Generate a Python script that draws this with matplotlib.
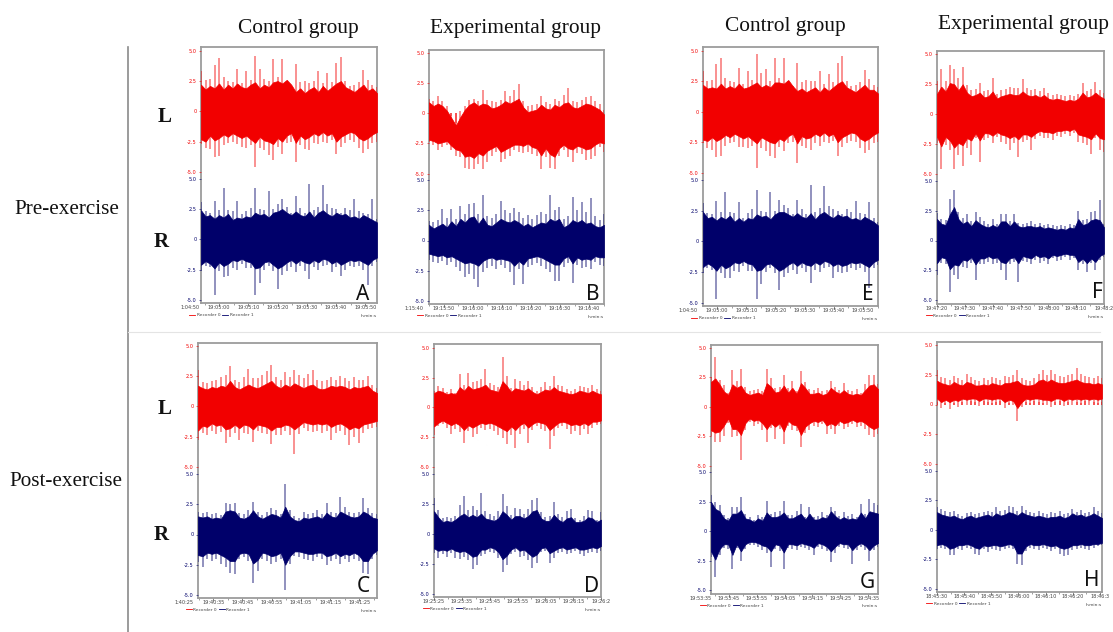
import matplotlib
matplotlib.use("Agg")
import matplotlib.pyplot as plt
from matplotlib.lines import Line2D
import numpy as np

W, H = 1113, 632
RED = "#f20000"
NAVY = "#00006a"

# Peak and dense-band envelopes per record (mV), evenly spaced in time, L = red, R = navy
A_L_UP = [3.3,2.6,2.7,3.8,4.4,2.8,2.5,2.4,3.5,2.3,3.3,2.6,4.6,3.5,2.7,2.5,4.3,2.8,4.3,2.5,2.1,3.9,2.4,2.5,2.3,2.5,3.3,2.3,3.2,2.4,4.0,4.5,2.5,2.1,2.2,2.4,3.4,2.6,2.2,2.0]
A_L_DN = [-2.7,-3.0,-3.1,-3.8,-3.7,-2.8,-2.6,-2.5,-2.7,-2.9,-3.0,-2.8,-4.6,-3.0,-3.2,-3.6,-4.0,-2.9,-3.5,-2.6,-2.5,-4.2,-2.8,-3.1,-3.2,-2.6,-2.7,-2.5,-2.6,-2.4,-3.5,-2.9,-2.6,-2.4,-2.5,-3.0,-3.4,-3.1,-2.6,-2.5]
A_L_BODY_UP = [2.2,1.8,2.1,1.9,2.3,1.8,2.2,1.9,2.3,2.0,1.9,2.2,2.4,1.9,2.2,2.0,2.4,2.5,2.3,2.6,2.2,1.6,1.9,1.5,1.8,2.0,1.6,2.1,1.7,2.0,2.3,2.5,2.0,1.8,1.6,1.9,2.2,1.7,1.9,1.5]
A_L_BODY_DN = [-2.3,-2.5,-2.0,-2.4,-2.2,-1.9,-2.1,-1.8,-2.0,-2.2,-2.0,-2.3,-2.6,-2.1,-2.4,-2.5,-2.7,-2.2,-2.5,-2.0,-1.8,-2.6,-2.0,-2.3,-2.1,-1.8,-2.0,-1.7,-2.0,-1.8,-2.5,-2.1,-1.9,-1.7,-1.8,-2.2,-2.4,-2.2,-1.9,-1.7]
A_R_UP = [3.1,2.3,2.2,3.2,2.4,4.2,2.4,2.3,3.2,2.1,2.3,2.6,4.2,2.5,2.4,4.0,2.5,2.9,3.3,2.7,2.2,3.6,2.6,2.2,4.6,2.4,2.7,4.5,2.9,2.6,2.5,2.2,2.6,2.4,3.3,2.3,2.2,2.1,3.3,1.7]
A_R_DN = [-2.6,-2.2,-2.3,-4.6,-2.6,-3.1,-3.0,-2.4,-2.5,-2.0,-2.4,-2.4,-4.6,-3.6,-2.5,-2.2,-2.6,-4.1,-2.9,-2.6,-2.3,-2.7,-2.2,-2.6,-3.3,-2.3,-2.5,-2.2,-2.1,-2.7,-2.3,-3.0,-2.5,-2.2,-2.3,-2.2,-2.5,-3.8,-2.2,-1.9]
A_R_BODY_UP = [2.4,1.9,2.0,1.7,2.0,1.8,2.1,1.6,1.8,1.7,1.9,1.8,2.2,2.0,2.1,1.8,2.2,2.3,2.5,2.2,2.0,2.3,2.0,1.9,2.3,1.8,2.2,2.4,2.1,1.9,2.2,2.0,2.1,1.8,1.9,1.7,2.0,1.8,1.6,1.4]
A_R_BODY_DN = [-2.1,-1.8,-2.0,-2.4,-1.9,-2.2,-2.0,-1.7,-1.8,-1.6,-1.8,-1.9,-2.4,-2.3,-1.9,-1.8,-2.1,-2.4,-2.2,-1.9,-1.7,-2.0,-1.7,-1.9,-2.0,-1.7,-1.9,-1.6,-1.7,-2.0,-1.8,-2.1,-1.9,-1.7,-1.8,-1.7,-1.9,-2.1,-1.7,-1.5]

B_L_UP = [1.2,1.0,1.4,1.0,0.6,-0.2,-0.8,0.2,0.6,1.1,1.2,1.0,1.9,1.1,1.0,0.9,1.1,1.8,1.4,1.9,2.4,1.0,0.6,0.7,0.8,1.4,0.9,0.8,1.2,1.0,1.5,2.1,1.0,0.9,1.1,1.3,1.4,1.0,0.8,0.3]
B_L_DN = [-2.4,-2.6,-3.0,-2.8,-2.6,-3.0,-3.5,-3.6,-4.5,-4.6,-4.6,-4.2,-4.6,-4.0,-3.5,-3.2,-4.0,-3.8,-3.5,-3.0,-3.2,-3.3,-3.2,-3.4,-3.5,-4.6,-3.6,-4.5,-4.6,-3.5,-3.0,-3.6,-4.0,-3.3,-3.4,-3.9,-3.8,-3.5,-2.8,-3.2]
B_L_BODY_UP = [0.9,0.6,0.8,0.6,0.2,-0.4,-1.0,-0.3,0.3,0.7,0.9,0.6,0.8,0.7,0.4,0.5,0.7,1.0,0.8,1.0,1.2,0.5,0.1,0.2,0.3,0.7,0.4,0.3,0.7,0.5,0.8,0.9,0.5,0.4,0.6,0.8,0.7,0.5,0.3,-0.1]
B_L_BODY_DN = [-2.2,-2.3,-2.5,-2.4,-2.3,-2.7,-3.0,-3.1,-3.6,-3.5,-3.7,-3.3,-3.5,-3.1,-2.9,-2.7,-3.2,-3.0,-2.8,-2.6,-2.6,-2.7,-2.5,-2.8,-2.9,-3.5,-2.9,-3.4,-3.6,-2.9,-2.6,-2.9,-3.0,-2.7,-2.8,-3.0,-2.9,-2.6,-2.4,-2.5]
B_R_UP = [1.6,1.5,1.7,2.6,1.9,2.6,1.8,2.9,2.2,3.0,3.1,2.2,3.8,2.0,1.9,2.2,3.3,2.5,2.3,2.7,2.4,1.9,2.1,1.8,2.1,2.4,2.2,3.8,2.5,2.8,1.8,2.0,3.6,2.5,3.2,2.4,3.5,2.0,1.7,2.2]
B_R_DN = [-1.6,-1.8,-1.9,-1.7,-2.0,-1.8,-2.2,-2.5,-3.0,-2.8,-3.2,-3.9,-2.6,-2.3,-2.1,-2.4,-2.0,-2.3,-2.6,-3.7,-2.4,-3.6,-2.2,-2.0,-1.9,-2.1,-2.4,-2.6,-3.4,-3.4,-2.2,-1.9,-3.5,-2.0,-2.3,-2.2,-2.4,-1.8,-2.0,-2.1]
B_R_BODY_UP = [1.3,1.0,1.2,1.4,1.1,1.6,1.2,1.8,1.5,1.9,2.0,1.4,1.9,1.3,1.2,1.5,1.8,1.6,1.5,1.7,1.5,1.2,1.4,1.1,1.3,1.5,1.4,1.8,1.6,1.8,1.1,1.3,1.7,1.5,1.7,1.4,1.5,1.2,1.1,1.3]
B_R_BODY_DN = [-1.1,-1.2,-1.3,-1.2,-1.4,-1.3,-1.5,-1.7,-1.9,-1.8,-1.9,-2.1,-1.7,-1.5,-1.4,-1.6,-1.5,-1.6,-1.7,-2.1,-1.7,-2.0,-1.5,-1.4,-1.3,-1.4,-1.6,-1.8,-2.0,-2.0,-1.5,-1.3,-1.9,-1.4,-1.6,-1.5,-1.6,-1.3,-1.4,-1.4]

C_L_UP = [3.0,2.0,1.9,2.1,2.2,2.4,2.6,3.3,2.2,2.0,2.4,3.1,2.3,2.3,2.6,2.9,3.4,2.4,2.2,2.8,2.4,3.0,2.6,2.3,2.7,3.0,2.2,2.1,2.2,2.4,2.2,2.5,2.3,2.1,2.4,2.2,2.2,2.5,1.8,1.5]
C_L_DN = [-2.8,-2.2,-2.4,-2.0,-2.3,-2.1,-3.0,-2.5,-2.2,-2.8,-2.2,-2.3,-2.9,-2.0,-2.2,-2.3,-3.1,-2.4,-2.4,-2.0,-2.4,-3.9,-2.3,-1.8,-2.0,-2.1,-2.0,-2.2,-2.0,-2.8,-2.2,-2.0,-2.4,-3.2,-2.5,-3.0,-2.2,-1.9,-1.8,-1.7]
C_L_BODY_UP = [1.7,1.5,1.4,1.6,1.5,1.7,1.6,2.1,1.6,1.4,1.6,1.8,1.6,1.5,1.7,1.9,2.1,1.7,1.5,1.8,1.6,1.9,1.7,1.5,1.7,1.8,1.5,1.4,1.5,1.7,1.6,1.7,1.6,1.4,1.6,1.5,1.6,1.7,1.3,1.1]
C_L_BODY_DN = [-2.0,-1.6,-1.7,-1.4,-1.6,-1.5,-1.9,-1.8,-1.5,-1.8,-1.5,-1.6,-1.9,-1.5,-1.6,-1.7,-2.0,-1.7,-1.7,-1.5,-1.6,-1.9,-1.6,-1.3,-1.4,-1.5,-1.4,-1.5,-1.4,-1.7,-1.5,-1.4,-1.6,-1.9,-1.7,-1.8,-1.5,-1.4,-1.3,-1.2]
C_R_UP = [1.9,1.8,1.9,1.7,1.8,1.6,2.6,2.5,2.6,1.8,1.7,2.0,2.7,1.9,1.6,1.9,2.2,2.0,1.7,4.2,2.0,1.5,1.4,1.9,1.7,1.8,2.0,1.7,2.6,1.9,1.8,3.1,2.3,1.9,1.8,1.9,3.0,2.2,1.8,1.7]
C_R_DN = [-2.3,-2.7,-2.0,-2.2,-2.0,-2.4,-2.7,-3.2,-3.3,-2.0,-1.9,-2.2,-4.0,-3.0,-2.0,-2.2,-2.4,-2.3,-2.0,-4.6,-2.4,-1.8,-1.9,-2.0,-2.1,-2.2,-1.9,-2.0,-2.5,-2.2,-2.0,-2.4,-2.0,-2.3,-2.0,-2.2,-3.2,-3.3,-2.0,-1.7]
C_R_BODY_UP = [1.5,1.4,1.5,1.3,1.4,1.3,1.9,2.0,1.9,1.4,1.3,1.5,2.0,1.5,1.3,1.5,1.7,1.6,1.4,2.3,1.5,1.2,1.1,1.4,1.3,1.4,1.5,1.3,1.8,1.5,1.4,1.9,1.7,1.5,1.4,1.5,1.9,1.7,1.4,1.3]
C_R_BODY_DN = [-1.7,-1.8,-1.5,-1.6,-1.5,-1.7,-1.9,-2.2,-2.2,-1.6,-1.5,-1.6,-2.4,-2.1,-1.5,-1.6,-1.8,-1.7,-1.5,-2.5,-1.8,-1.4,-1.4,-1.5,-1.6,-1.6,-1.5,-1.5,-1.8,-1.7,-1.5,-1.8,-1.6,-1.7,-1.5,-1.7,-2.2,-2.2,-1.6,-1.3]

D_L_UP = [1.4,1.8,1.6,1.3,1.5,1.2,2.8,1.9,2.9,2.1,2.2,2.4,3.2,2.0,1.9,1.7,4.2,2.6,1.6,2.4,2.2,1.9,2.2,1.7,1.4,1.7,2.1,1.8,2.6,1.9,1.8,1.5,1.4,1.5,1.8,1.7,1.6,1.9,1.5,1.4]
D_L_DN = [-2.3,-1.6,-1.4,-1.7,-2.2,-1.8,-2.1,-3.0,-2.0,-2.5,-2.2,-1.7,-1.9,-1.8,-2.0,-2.3,-2.6,-3.1,-2.3,-3.4,-2.2,-1.8,-3.0,-1.9,-1.6,-1.8,-2.0,-3.5,-2.4,-1.7,-1.6,-1.8,-2.2,-2.0,-2.3,-1.8,-2.2,-1.7,-1.5,-1.4]
D_L_BODY_UP = [1.2,1.4,1.3,1.1,1.2,1.1,1.7,1.4,1.8,1.5,1.6,1.7,1.9,1.5,1.4,1.3,2.2,1.8,1.3,1.6,1.5,1.4,1.6,1.3,1.1,1.3,1.5,1.4,1.7,1.4,1.3,1.2,1.1,1.2,1.4,1.3,1.2,1.4,1.2,1.1]
D_L_BODY_DN = [-1.6,-1.3,-1.1,-1.3,-1.5,-1.3,-1.5,-1.9,-1.5,-1.7,-1.5,-1.3,-1.4,-1.3,-1.4,-1.6,-1.8,-2.0,-1.6,-1.9,-1.5,-1.3,-1.7,-1.4,-1.2,-1.3,-1.4,-1.9,-1.6,-1.3,-1.2,-1.3,-1.5,-1.4,-1.5,-1.3,-1.5,-1.2,-1.2,-1.1]
D_R_UP = [3.0,2.0,1.3,1.4,1.3,1.5,2.4,3.2,2.0,2.3,2.0,3.4,1.9,1.7,1.5,1.9,3.3,2.3,1.6,2.2,2.1,1.7,2.1,2.8,3.0,1.8,1.4,1.5,2.7,1.7,1.4,1.9,2.1,1.3,1.2,1.5,2.0,1.9,1.2,1.8]
D_R_DN = [-1.6,-2.0,-1.7,-1.9,-1.6,-2.0,-2.1,-1.9,-2.2,-2.9,-2.6,-1.8,-1.7,-1.5,-1.6,-2.0,-3.2,-2.6,-1.7,-1.5,-1.9,-1.8,-2.2,-2.8,-2.4,-1.5,-1.4,-2.4,-2.0,-1.6,-1.5,-1.7,-1.6,-1.4,-1.7,-1.8,-1.6,-1.5,-1.6,-1.4]
D_R_BODY_UP = [1.9,1.4,1.0,1.1,1.0,1.2,1.5,1.7,1.4,1.6,1.4,1.7,1.3,1.2,1.1,1.3,1.9,1.6,1.2,1.5,1.5,1.3,1.5,1.9,2.0,1.3,1.1,1.1,1.6,1.2,1.0,1.3,1.4,1.0,1.0,1.1,1.4,1.3,1.0,1.2]
D_R_BODY_DN = [-1.2,-1.4,-1.3,-1.4,-1.2,-1.4,-1.5,-1.4,-1.6,-1.9,-1.8,-1.3,-1.3,-1.1,-1.2,-1.5,-2.1,-1.8,-1.3,-1.1,-1.4,-1.3,-1.6,-1.9,-1.7,-1.2,-1.1,-1.6,-1.4,-1.2,-1.1,-1.3,-1.2,-1.1,-1.3,-1.3,-1.2,-1.1,-1.2,-1.0]

E_L_UP = [3.3,2.5,2.6,3.9,4.4,2.8,2.5,2.4,3.6,2.3,3.3,2.6,4.7,3.2,3.5,2.5,4.4,2.8,4.4,2.5,2.1,4.0,2.4,2.6,2.5,2.5,3.3,2.3,3.1,2.4,4.0,4.6,2.5,2.1,2.2,2.4,3.4,2.7,2.2,2.0]
E_L_DN = [-2.6,-3.0,-3.1,-3.7,-3.6,-2.8,-2.6,-2.5,-2.9,-2.9,-3.0,-2.8,-4.6,-3.0,-3.2,-3.6,-3.8,-2.9,-3.2,-2.6,-2.5,-4.2,-2.8,-3.0,-3.1,-2.6,-2.8,-2.5,-2.6,-2.4,-3.6,-2.9,-2.6,-2.4,-2.5,-3.0,-3.4,-3.1,-2.6,-2.5]
E_L_BODY_UP = [2.2,1.9,2.0,1.9,2.3,1.9,2.1,1.9,2.3,1.9,2.0,2.2,2.4,2.0,2.2,2.0,2.4,2.4,2.3,2.6,2.1,1.7,1.9,1.6,1.8,2.0,1.6,2.0,1.7,2.0,2.3,2.5,2.0,1.8,1.6,1.9,2.2,1.8,1.8,1.5]
E_L_BODY_DN = [-2.3,-2.4,-2.1,-2.4,-2.2,-1.9,-2.1,-1.8,-2.0,-2.2,-2.0,-2.3,-2.6,-2.1,-2.3,-2.5,-2.6,-2.2,-2.4,-2.0,-1.8,-2.6,-2.0,-2.2,-2.1,-1.8,-2.0,-1.7,-2.0,-1.8,-2.5,-2.1,-1.9,-1.7,-1.8,-2.2,-2.4,-2.2,-1.9,-1.7]
E_R_UP = [3.1,2.3,2.2,3.3,2.4,4.0,2.4,2.3,3.2,1.9,2.3,2.6,4.2,2.5,2.4,4.0,2.5,3.4,3.0,2.7,2.2,3.4,2.6,2.2,4.6,2.4,2.7,4.5,2.9,2.6,2.5,2.2,2.6,2.4,3.3,2.3,2.2,3.2,1.9,1.6]
E_R_DN = [-2.6,-2.2,-2.3,-4.7,-2.6,-3.0,-3.0,-2.4,-2.5,-2.0,-2.4,-2.4,-4.7,-3.5,-2.5,-2.2,-2.6,-4.0,-2.9,-2.6,-2.3,-2.7,-2.2,-2.5,-3.4,-2.3,-2.5,-2.2,-2.1,-3.0,-2.5,-2.6,-2.5,-2.2,-2.3,-2.2,-2.5,-3.8,-2.2,-1.9]
E_R_BODY_UP = [2.4,1.9,2.0,1.7,2.0,1.8,2.1,1.6,1.9,1.6,1.9,1.8,2.2,2.0,2.1,1.8,2.2,2.4,2.4,2.2,2.0,2.3,2.0,1.9,2.3,1.8,2.2,2.4,2.1,1.9,2.2,2.0,2.1,1.8,1.9,1.7,2.0,1.8,1.6,1.3]
E_R_BODY_DN = [-2.1,-1.8,-2.0,-2.4,-1.9,-2.2,-2.0,-1.7,-1.8,-1.6,-1.8,-1.9,-2.4,-2.3,-1.9,-1.8,-2.1,-2.4,-2.2,-1.9,-1.7,-2.0,-1.7,-1.9,-2.0,-1.7,-1.9,-1.6,-1.7,-2.0,-1.8,-2.0,-1.9,-1.7,-1.8,-1.7,-1.9,-2.1,-1.7,-1.5]

F_L_UP = [2.8,3.8,2.8,4.1,3.8,3.0,3.9,2.4,2.0,2.1,2.6,1.9,2.0,3.0,1.7,2.0,2.1,2.3,2.2,2.2,2.9,2.2,2.0,2.1,1.9,2.2,1.8,1.6,1.7,1.6,1.5,1.6,1.5,1.7,2.6,1.9,2.1,2.7,2.0,1.8]
F_L_DN = [-2.4,-4.6,-2.6,-3.0,-4.6,-3.4,-4.3,-2.8,-3.4,-2.0,-4.0,-2.2,-2.0,-2.4,-1.9,-2.3,-2.5,-3.0,-2.4,-3.6,-2.3,-2.2,-3.0,-2.1,-1.8,-2.0,-2.0,-2.2,-1.8,-1.9,-1.7,-1.8,-1.6,-2.3,-2.4,-2.6,-3.3,-2.0,-3.0,-3.2]
F_L_BODY_UP = [1.7,2.3,1.9,2.6,2.5,2.0,2.5,1.8,1.5,1.6,1.8,1.4,1.5,1.9,1.3,1.5,1.6,1.7,1.6,1.6,1.9,1.6,1.5,1.6,1.4,1.6,1.3,1.2,1.3,1.2,1.1,1.2,1.1,1.3,1.8,1.4,1.5,1.8,1.5,1.3]
F_L_BODY_DN = [-1.9,-2.7,-1.9,-2.2,-2.8,-2.4,-2.6,-2.0,-2.2,-1.6,-2.2,-1.6,-1.6,-1.8,-1.5,-1.7,-1.8,-2.0,-1.8,-2.1,-1.7,-1.7,-1.9,-1.6,-1.4,-1.5,-1.5,-1.6,-1.4,-1.4,-1.3,-1.4,-1.2,-1.7,-1.8,-1.9,-2.1,-1.6,-2.0,-2.1]
F_R_UP = [2.3,1.8,1.7,3.5,4.2,2.4,1.9,2.2,1.6,2.4,2.0,1.6,1.4,1.8,1.4,2.2,2.2,1.6,2.2,1.5,1.4,1.5,1.6,1.4,1.5,1.3,1.4,1.3,1.2,1.3,1.2,1.4,1.3,2.5,1.7,1.8,2.4,2.5,3.4,1.4]
F_R_DN = [-2.9,-1.9,-2.0,-4.3,-2.9,-3.2,-2.2,-2.3,-1.9,-3.3,-2.0,-2.0,-1.8,-2.0,-1.9,-2.5,-3.3,-2.0,-1.8,-3.5,-1.7,-1.8,-2.0,-1.6,-1.9,-1.7,-2.0,-1.5,-1.7,-1.6,-1.4,-1.6,-1.5,-2.5,-2.0,-2.6,-1.9,-2.5,-1.6,-1.4]
F_R_BODY_UP = [1.8,1.4,1.3,2.2,2.8,1.8,1.4,1.6,1.2,1.7,1.4,1.2,1.1,1.3,1.1,1.6,1.6,1.2,1.6,1.2,1.1,1.2,1.2,1.1,1.2,1.0,1.1,1.0,0.9,1.0,0.9,1.1,1.0,1.8,1.3,1.4,1.7,1.8,1.7,1.1]
F_R_BODY_DN = [-1.9,-1.4,-1.5,-2.4,-2.0,-2.1,-1.6,-1.7,-1.4,-2.0,-1.5,-1.5,-1.3,-1.5,-1.4,-1.8,-1.9,-1.5,-1.4,-1.9,-1.3,-1.4,-1.5,-1.2,-1.4,-1.3,-1.5,-1.2,-1.3,-1.2,-1.1,-1.2,-1.2,-1.8,-1.5,-1.9,-1.5,-1.8,-1.3,-1.1]

G_L_UP = [2.5,4.2,2.3,1.8,1.2,3.1,2.2,3.2,1.7,1.3,1.4,1.5,1.3,3.2,2.4,1.6,1.7,2.7,1.6,2.2,1.3,3.0,2.1,1.5,1.4,1.6,1.3,1.4,2.2,1.7,1.4,2.0,1.4,1.3,1.5,1.2,1.9,2.7,2.7,1.9]
G_L_DN = [-2.5,-3.0,-3.0,-2.5,-1.4,-2.6,-2.5,-4.5,-2.0,-1.3,-1.6,-1.5,-2.0,-3.0,-1.8,-2.7,-1.9,-3.2,-1.6,-2.0,-2.1,-3.4,-2.2,-2.0,-1.6,-1.7,-1.5,-2.3,-1.9,-2.3,-1.6,-1.9,-1.7,-1.5,-1.7,-1.6,-1.9,-2.4,-2.6,-2.3]
G_L_BODY_UP = [2.1,2.4,1.9,1.3,1.0,1.9,1.6,1.8,1.2,1.0,1.1,1.2,1.0,2.0,1.7,1.2,1.3,1.8,1.2,1.6,1.1,2.0,1.6,1.1,1.1,1.2,1.0,1.1,1.6,1.3,1.1,1.4,1.1,1.0,1.1,1.0,1.4,1.8,1.9,1.5]
G_L_BODY_DN = [-2.0,-2.2,-2.1,-1.6,-1.0,-1.9,-1.9,-2.4,-1.4,-1.0,-1.2,-1.1,-1.4,-1.9,-1.4,-1.7,-1.4,-2.1,-1.2,-1.5,-1.6,-2.4,-1.7,-1.4,-1.2,-1.3,-1.1,-1.6,-1.4,-1.6,-1.2,-1.4,-1.3,-1.1,-1.3,-1.2,-1.4,-1.7,-1.9,-1.7]
G_R_UP = [3.1,2.5,2.2,1.4,1.1,2.1,2.1,2.9,1.5,1.2,1.0,1.4,1.2,2.6,1.5,1.6,1.7,2.6,1.4,1.4,1.7,2.3,1.2,2.1,1.2,1.3,1.6,1.4,2.1,1.7,1.3,1.6,1.3,1.5,1.2,2.3,1.5,2.7,2.4,2.2]
G_R_DN = [-2.2,-3.9,-2.0,-1.4,-1.5,-3.2,-1.4,-2.5,-1.5,-1.2,-1.2,-1.3,-1.6,-1.8,-3.0,-1.5,-1.7,-3.2,-1.4,-1.5,-1.6,-1.3,-1.4,-1.6,-2.0,-1.3,-1.5,-1.7,-2.6,-1.8,-1.3,-1.4,-1.5,-2.8,-1.6,-1.3,-1.6,-2.5,-1.6,-1.3]
G_R_BODY_UP = [2.5,1.9,1.7,1.1,0.9,1.5,1.5,1.8,1.1,1.0,0.8,1.1,0.9,1.6,1.2,1.2,1.3,1.6,1.1,1.1,1.3,1.5,1.0,1.5,1.0,1.0,1.2,1.1,1.7,1.3,1.0,1.2,1.0,1.1,1.0,1.6,1.1,1.7,1.6,1.5]
G_R_BODY_DN = [-1.7,-2.4,-1.5,-1.1,-1.1,-2.0,-1.1,-1.7,-1.1,-0.9,-0.9,-1.0,-1.2,-1.3,-1.7,-1.1,-1.2,-1.8,-1.1,-1.1,-1.2,-1.0,-1.1,-1.2,-1.4,-1.0,-1.1,-1.3,-1.7,-1.3,-1.0,-1.1,-1.1,-1.6,-1.2,-1.0,-1.2,-1.6,-1.2,-1.0]

H_L_UP = [2.9,2.3,2.2,2.1,2.4,2.2,2.1,2.6,2.3,2.1,2.0,2.2,2.1,2.3,2.2,2.1,2.4,2.3,2.5,2.9,2.2,2.1,2.0,2.2,2.6,2.9,2.5,2.9,2.6,2.4,2.3,2.5,2.6,3.1,2.6,2.4,2.3,2.2,2.4,2.2]
H_L_DN = [0.2,-0.3,0.1,-0.4,0.1,-0.2,0.2,0.0,0.3,0.2,-0.1,0.3,0.2,0.1,0.2,0.3,-0.3,0.1,0.0,-1.4,-0.2,0.2,0.1,0.3,0.2,0.1,0.0,-0.2,0.2,0.3,-0.1,0.2,0.0,0.2,0.1,0.3,0.0,0.2,0.1,0.2]
H_L_BODY_UP = [2.0,1.8,1.7,1.6,1.9,1.7,1.6,1.9,1.8,1.6,1.6,1.7,1.6,1.8,1.7,1.6,1.8,1.8,1.9,2.0,1.7,1.6,1.6,1.7,2.0,2.1,1.9,2.1,1.9,1.8,1.8,1.9,2.0,2.1,1.9,1.8,1.8,1.7,1.8,1.7]
H_L_BODY_DN = [0.5,0.2,0.4,0.2,0.4,0.3,0.5,0.4,0.5,0.5,0.3,0.5,0.5,0.4,0.5,0.5,0.2,0.4,0.3,-0.3,0.2,0.5,0.4,0.5,0.5,0.4,0.4,0.3,0.5,0.5,0.3,0.5,0.4,0.5,0.4,0.5,0.4,0.5,0.4,0.5]
H_R_UP = [1.9,1.8,1.6,1.5,1.6,1.3,1.2,1.4,1.5,1.3,1.4,1.5,1.6,1.5,1.9,1.6,1.7,2.0,1.9,1.6,2.0,1.7,1.5,1.4,1.6,1.4,1.3,1.5,1.4,1.6,1.3,1.4,1.8,1.5,1.7,1.4,1.5,1.9,1.6,1.4]
H_R_DN = [-1.6,-1.5,-1.6,-2.1,-2.1,-1.6,-1.7,-1.5,-1.6,-2.0,-2.1,-1.6,-1.9,-1.6,-1.7,-1.8,-1.6,-1.5,-1.6,-2.9,-3.0,-1.8,-1.5,-1.6,-1.7,-1.5,-1.6,-1.8,-1.6,-2.0,-2.2,-2.1,-1.7,-1.6,-1.5,-1.6,-1.7,-1.5,-1.4,-1.3]
H_R_BODY_UP = [1.5,1.3,1.2,1.1,1.2,1.0,0.9,1.1,1.2,1.0,1.1,1.2,1.3,1.1,1.4,1.2,1.3,1.5,1.4,1.2,1.5,1.3,1.2,1.1,1.2,1.1,1.0,1.1,1.1,1.2,1.0,1.1,1.4,1.2,1.3,1.1,1.2,1.4,1.2,1.0]
H_R_BODY_DN = [-1.3,-1.2,-1.3,-1.6,-1.5,-1.3,-1.3,-1.2,-1.3,-1.5,-1.6,-1.3,-1.4,-1.3,-1.3,-1.4,-1.3,-1.2,-1.3,-2.0,-2.0,-1.4,-1.2,-1.3,-1.3,-1.2,-1.3,-1.4,-1.3,-1.5,-1.6,-1.5,-1.3,-1.3,-1.2,-1.3,-1.3,-1.2,-1.2,-1.1]

# Time axis labels, ten seconds apart
A_TIMES = ["1:04:50", "19:05:00", "19:05:10", "19:05:20", "19:05:30", "19:05:40", "19:05:50"]
B_TIMES = ["1:15:40", "19:15:50", "19:16:00", "19:16:10", "19:16:20", "19:16:30", "19:16:40"]
C_TIMES = ["1:40:25", "19:40:35", "19:40:45", "19:40:55", "19:41:05", "19:41:15", "19:41:25"]
D_TIMES = ["19:25:25", "19:25:35", "19:25:45", "19:25:55", "19:26:05", "19:26:15", "19:26:2"]
E_TIMES = ["1:04:50", "19:05:00", "19:05:10", "19:05:20", "19:05:30", "19:05:40", "19:05:50"]
F_TIMES = ["19:47:20", "19:47:30", "19:47:40", "19:47:50", "19:48:00", "19:48:10", "19:48:2"]
G_TIMES = ["19:53:35", "19:53:45", "19:53:55", "19:54:05", "19:54:15", "19:54:25", "19:54:35"]
H_TIMES = ["18:45:30", "18:45:40", "18:45:50", "18:46:00", "18:46:10", "18:46:20", "18:46:3"]

Y_TICKS = [-5, -2.5, 0, 2.5, 5]
Y_LABELS = ["-5.0", "-2.5", "0", "2.5", "5.0"]

# name, data, times, xlim, frame (l, t, r, b), red (y5, y-5), blue (y5, y-5), letter pos
panels = [
    ("A", [A_L_UP, A_L_DN, A_L_BODY_UP, A_L_BODY_DN, A_R_UP, A_R_DN, A_R_BODY_UP, A_R_BODY_DN], A_TIMES, (3.8, 64.0), (201, 47, 377, 303), (50.7, 172), (178.7, 300), (363, 294)),
    ("B", [B_L_UP, B_L_DN, B_L_BODY_UP, B_L_BODY_DN, B_R_UP, B_R_DN, B_R_BODY_UP, B_R_BODY_DN], B_TIMES, (5.0, 65.1), (429, 50, 604, 304), (52.7, 173.7), (180.3, 300.7), (593, 295)),
    ("C", [C_L_UP, C_L_DN, C_L_BODY_UP, C_L_BODY_DN, C_R_UP, C_R_DN, C_R_BODY_UP, C_R_BODY_DN], C_TIMES, (4.8, 66.0), (198, 343, 377, 598), (345.7, 467), (474, 595), (363, 587)),
    ("D", [D_L_UP, D_L_DN, D_L_BODY_UP, D_L_BODY_DN, D_R_UP, D_R_DN, D_R_BODY_UP, D_R_BODY_DN], D_TIMES, (0.0, 60.0), (434, 344, 601, 597), (347.7, 467), (474, 594), (592, 587)),
    ("E", [E_L_UP, E_L_DN, E_L_BODY_UP, E_L_BODY_DN, E_R_UP, E_R_DN, E_R_BODY_UP, E_R_BODY_DN], E_TIMES, (5.2, 65.1), (703, 47, 878, 306), (50.7, 172.7), (180, 302.7), (868, 294)),
    ("F", [F_L_UP, F_L_DN, F_L_BODY_UP, F_L_BODY_DN, F_R_UP, F_R_DN, F_R_BODY_UP, F_R_BODY_DN], F_TIMES, (0.0, 60.0), (937, 51, 1104, 304), (54.3, 174), (180.7, 300.3), (1097, 293)),
    ("G", [G_L_UP, G_L_DN, G_L_BODY_UP, G_L_BODY_DN, G_R_UP, G_R_DN, G_R_BODY_UP, G_R_BODY_DN], G_TIMES, (3.6, 63.5), (711, 345, 878, 594), (347.7, 465.7), (472.3, 590.3), (867, 582)),
    ("H", [H_L_UP, H_L_DN, H_L_BODY_UP, H_L_BODY_DN, H_R_UP, H_R_DN, H_R_BODY_UP, H_R_BODY_DN], H_TIMES, (0.0, 60.8), (937, 342, 1102, 592), (345, 464), (470.7, 589), (1092, 581)),
]


def px_axes(fig, l, t, r, b):
    return fig.add_axes([l / W, 1 - b / H, (r - l) / W, (b - t) / H])


def draw_channel(ax, xlim, up, dn, body_up, body_dn, color):
    ax.vlines(np.linspace(xlim[0], xlim[1], len(up)), 0, up, color=color, lw=1.1, alpha=0.55)
    ax.vlines(np.linspace(xlim[0], xlim[1], len(dn)), 0, dn, color=color, lw=1.1, alpha=0.55)
    xb = np.linspace(xlim[0], xlim[1], len(body_up))
    ax.fill_between(xb, body_dn, body_up, color=color, lw=0.5)
    ax.set_xlim(xlim)
    ax.set_ylim(-5, 5)
    ax.set_yticks(Y_TICKS)
    ax.set_yticklabels(Y_LABELS, fontsize=3.6, color=color)
    ax.tick_params(axis="y", length=1.5, width=0.4, pad=1.5, color=color)
    ax.set_xticks([])
    ax.patch.set_alpha(0)
    for s in ax.spines.values():
        s.set_visible(False)


fig = plt.figure(figsize=(W / 100, H / 100), dpi=100)
serif = "Liberation Serif"

for name, data, times, xlim, frame, red_y, blue_y, letter in panels:
    ax = px_axes(fig, *frame)
    ax.set_xlim(xlim)
    ax.set_yticks([])
    for s in ax.spines.values():
        s.set_color("#9c9c9c")
        s.set_linewidth(1.3)
    ticks = np.arange(len(times)) * 10
    ax.set_xticks([t for t in ticks if xlim[0] <= t <= xlim[1]])
    ax.set_xticks(np.arange(np.ceil(xlim[0] / 5) * 5, xlim[1], 5), minor=True)
    ax.set_xticklabels([])
    ax.tick_params(axis="x", which="major", length=2, width=0.5, color="#555555")
    ax.tick_params(axis="x", which="minor", length=1.2, width=0.4, color="#555555")
    for t, label in zip(ticks, times):
        ax.text(t, -0.018, label, transform=ax.get_xaxis_transform(), fontsize=3.6, color="#444444",
                ha="center", va="center", clip_on=False)
    ax.text(1.0, -0.05, "h:min:s", transform=ax.transAxes, fontsize=3.2, color="#444444", ha="right", va="center")
    handles = [Line2D([], [], color=RED, lw=0.6), Line2D([], [], color=NAVY, lw=0.6)]
    ax.legend(handles, ["Recorder 0", "Recorder 1"], ncol=2, frameon=False, fontsize=3.2, loc="center left",
              bbox_to_anchor=(-0.08, -0.047), handlelength=1.4, columnspacing=0.4, handletextpad=0.3,
              borderpad=0, labelcolor="#444444")

    ax_l = px_axes(fig, frame[0], red_y[0], frame[2], red_y[1])
    draw_channel(ax_l, xlim, data[0], data[1], data[2], data[3], RED)
    ax_r = px_axes(fig, frame[0], blue_y[0], frame[2], blue_y[1])
    draw_channel(ax_r, xlim, data[4], data[5], data[6], data[7], NAVY)

    fig.text(letter[0] / W, 1 - letter[1] / H, name, fontsize=15, family="Noto Sans", ha="center", va="center", color="#111111")

# Column titles and row labels
for x, y, s in [(298, 28, "Control group"), (515, 28, "Experimental group"), (785, 26, "Control group"), (1023, 24, "Experimental group")]:
    fig.text(x / W, 1 - y / H, s, fontsize=15.4, family=serif, ha="center", va="center", color="#111111")
for x, y, s in [(67, 209, "Pre-exercise"), (66, 481, "Post-exercise")]:
    fig.text(x / W, 1 - y / H, s, fontsize=15.2, family=serif, ha="center", va="center", color="#111111")
for x, y, s in [(165, 117, "L"), (161, 242, "R"), (165, 409, "L"), (161, 535, "R")]:
    fig.text(x / W, 1 - y / H, s, fontsize=15, family=serif, weight="bold", ha="center", va="center", color="#111111")

fig.add_artist(Line2D([128 / W, 128 / W], [1 - 47 / H, 0], color="#8a8a8a", lw=1.2))
fig.add_artist(Line2D([128 / W, 1100 / W], [1 - 332 / H, 1 - 332 / H], color="#e4e4e4", lw=0.8))

fig.savefig("out.png", dpi=100)
